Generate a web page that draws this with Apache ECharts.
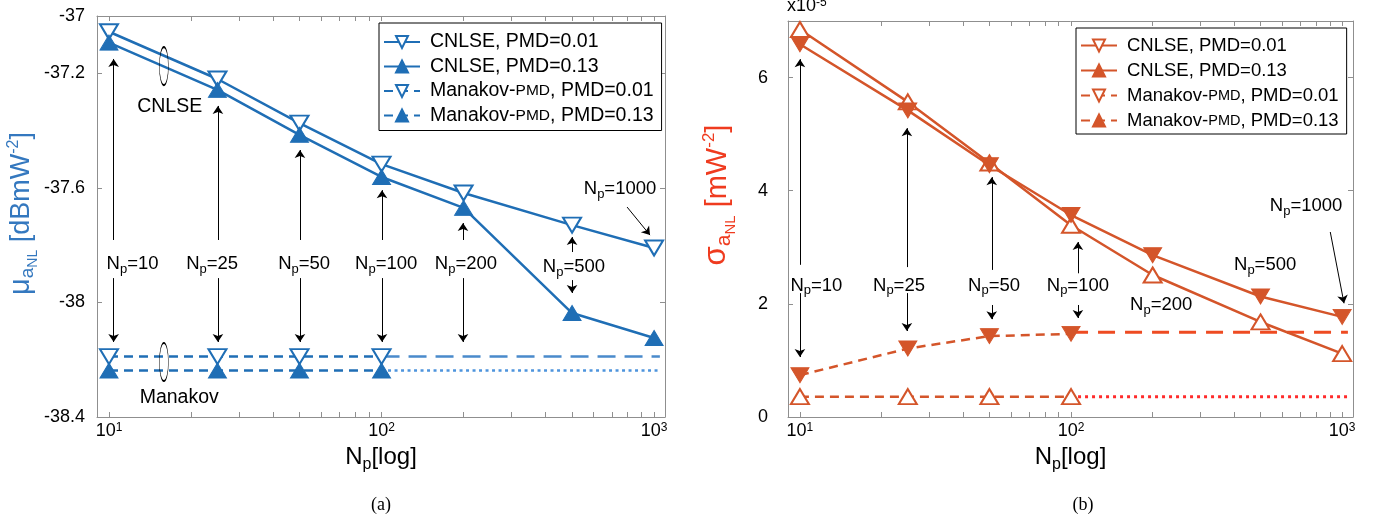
<!DOCTYPE html>
<html>
<head>
  <meta charset="utf-8" />
  <title>Mean and std of aNL vs Np</title>
  <script src="https://cdn.jsdelivr.net/npm/echarts@6/dist/echarts.min.js"></script>
  <style>
    html, body { margin: 0; padding: 0; background: #fff; }
    #chart { width: 1393px; height: 525px; }
  </style>
</head>
<body>
  <div id="chart"></div>
  <script>
    // number of pulses (x, log scale)
    const N_ALL = [10, 25, 50, 100, 200, 500, 1000];
    const N_LOW = [10, 25, 50, 100];
    const N_EXT = [100, 1050];

    const LEGEND_NAMES = ['CNLSE, PMD=0.01', 'CNLSE, PMD=0.13', 'Manakov-PMD, PMD=0.01', 'Manakov-PMD, PMD=0.13'];

    // (a) mean of aNL [dBmW^-2]
    const muCnlse001 = [-37.055, -37.22, -37.374, -37.517, -37.618, -37.73, -37.81];
    const muCnlse013 = [-37.093, -37.258, -37.415, -37.562, -37.67, -38.037, -38.124];
    const muManakov001 = [-38.189, -38.189, -38.189, -38.189];
    const muManakov013 = [-38.238, -38.238, -38.238, -38.238];
    const muManakov001Ext = [-38.189, -38.189];
    const muManakov013Ext = [-38.238, -38.238];

    // (b) std of aNL [x1e-5 mW^-2]
    const sigCnlse001 = [6.85, 5.57, 4.49, 3.39, 2.51, 1.68, 1.12];
    const sigCnlse013 = [6.59, 5.42, 4.45, 3.57, 2.86, 2.13, 1.77];
    const sigManakov001 = [0.36, 0.36, 0.36, 0.36];
    const sigManakov013 = [0.74, 1.21, 1.43, 1.47];
    const sigManakov001Ext = [0.36, 0.36];
    const sigManakov013Ext = [1.5, 1.5];

    // ticks
    const X_LABEL_EXP = [1, 2, 3];
    const X_TICKS = [10, 20, 30, 40, 50, 60, 70, 80, 90, 100, 200, 300, 400, 500, 600, 700, 800, 900, 1000];
    const MU_TICKS = [-38.4, -38, -37.6, -37.2, -37];
    const SIG_TICKS = [0, 2, 4, 6];

    // annotations: arrows [N1, v1, N2, v2], labels [N, v, text]
    const arrowsA = [
      [10.4, -37.782, 10.4, -37.150], [25.1, -37.782, 25.1, -37.314], [50.2, -37.782, 50.2, -37.468],
      [100.4, -37.782, 100.4, -37.608], [199, -37.782, 199, -37.723], [500, -37.824, 500, -37.772],
      [10.4, -37.915, 10.4, -38.138], [25.1, -37.915, 25.1, -38.138], [50.2, -37.915, 50.2, -38.138],
      [100.4, -37.915, 100.4, -38.138], [199, -37.915, 199, -38.138], [500, -37.922, 500, -37.967],
      [796, -37.667, 966, -37.765]
    ];
    const labelsA = [
      [12.2, -37.869, '10'], [23.9, -37.869, '25'], [52, -37.869, '50'], [104, -37.869, '100'],
      [204, -37.869, '200'], [508, -37.88, '500'], [750, -37.608, '1000']
    ];
    const ellipsesA = [[15.9, -37.175], [15.9, -38.208]];
    const textsA = [[16.7, -37.318, 'CNLSE'], [18.1, -38.334, 'Manakov']];

    const arrowsB = [
      [10, 2.69, 10, 6.325], [24.8, 2.65, 24.8, 5.106], [51, 2.6, 51, 4.24], [106, 2.54, 106, 3.092],
      [10, 2.19, 10, 1.06], [24.8, 2.19, 24.8, 1.52], [51, 1.98, 51, 1.73], [106, 1.98, 106, 1.75],
      [904, 3.27, 1016, 2.01]
    ];
    const labelsB = [
      [11.5, 2.31, '10'], [23.2, 2.31, '25'], [52, 2.31, '50'], [106, 2.31, '100'],
      [215, 1.96, '200'], [520, 2.67, '500'], [736, 3.71, '1000']
    ];

    const BLUE = '#1f6eb5', BLUE_LIGHT = '#4a8acb', BLUE_DOT = '#4d94dd';
    const ORANGE = '#d4552a', ORANGE_EXT = '#ee4b22', RED_DOT = '#ff2b2b';
    const AXIS_GRAY = '#8f8f8f';
    const FONT = "'Liberation Sans', Arial, sans-serif";
    const X_MIN = 0.956, X_MAX = 3.04;
    const R_SUFFIX = ' (b)';

    const L = Math.log10;
    const toXY = (ns, vs) => ns.map((n, i) => [L(n), vs[i]]);

    function curve(name, panel, ns, vs, color, o) {
      const hasSym = o.symbol !== false;
      return {
        name: name, type: 'line',
        xAxisIndex: panel * 2, yAxisIndex: panel * 2,
        data: toXY(ns, vs),
        symbol: hasSym ? 'triangle' : 'none',
        showSymbol: hasSym,
        symbolRotate: o.down ? 180 : 0,
        symbolSize: [18, 15],
        symbolKeepAspect: false,
        lineStyle: { color: color, width: o.width || 2.5, type: o.dash || 'solid' },
        itemStyle: o.open
          ? { color: '#fff', borderColor: color, borderWidth: 2 }
          : { color: color, borderColor: color, borderWidth: 1 },
        z: o.z || 2, animation: false, silent: true
      };
    }

    // base text + lowered subscript (rich text)
    function subRich(size, subSize, drop, color) {
      return {
        n: { fontSize: size, lineHeight: size + 2, fontFamily: FONT, color: color, verticalAlign: 'top' },
        p: { fontSize: subSize, lineHeight: subSize, fontFamily: FONT, color: color, verticalAlign: 'top', padding: [drop, 0, 0, 0] }
      };
    }

    function annotations(panel, arrows, labels, ellipses, texts) {
      const lines = arrows.map(a => [
        { coord: [L(a[0]), a[1]] },
        { coord: [L(a[2]), a[3]] }
      ]);
      const points = labels.map(l => ({
        coord: [L(l[0]), l[1]], symbol: 'circle', symbolSize: 1,
        itemStyle: { color: 'rgba(0,0,0,0)' },
        label: { show: true, position: 'inside', formatter: () => '{n|N}{p|p}{n|=' + l[2] + '}', rich: subRich(18.5, 13, 8, '#000') }
      }));
      ellipses.forEach(e => points.push({
        coord: [L(e[0]), e[1]], symbol: 'circle', symbolSize: [9, 38],
        itemStyle: { color: 'rgba(0,0,0,0)', borderColor: '#000', borderWidth: 1 },
        label: { show: false }
      }));
      texts.forEach(t => points.push({
        coord: [L(t[0]), t[1]], symbol: 'circle', symbolSize: 1,
        itemStyle: { color: 'rgba(0,0,0,0)' },
        label: { show: true, position: 'inside', formatter: () => t[2], fontSize: 19.5, fontFamily: FONT, color: '#000' }
      }));
      return {
        type: 'line', name: 'anno' + panel, data: [],
        xAxisIndex: panel * 2, yAxisIndex: panel * 2, z: 5, silent: true, animation: false,
        markLine: {
          silent: true, animation: false,
          symbol: ['none', 'arrow'], symbolSize: 8,
          label: { show: false },
          lineStyle: { color: '#000', width: 1, type: 'solid' },
          emphasis: { disabled: true },
          data: lines
        },
        markPoint: { silent: true, animation: false, emphasis: { disabled: true }, data: points }
      };
    }

    function xAxes(gi) {
      const base = {
        type: 'value', gridIndex: gi, min: X_MIN, max: X_MAX,
        splitLine: { show: false },
        axisLine: { show: true, onZero: false, lineStyle: { color: AXIS_GRAY, width: 1 } },
        axisTick: { show: true, inside: true, length: 5, customValues: X_TICKS.map(L), lineStyle: { color: AXIS_GRAY } }
      };
      return [
        Object.assign({}, base, {
          position: 'bottom',
          axisLabel: {
            customValues: X_LABEL_EXP, margin: 5, color: '#000', fontSize: 18, fontFamily: FONT,
            formatter: v => '{b|10}{s|' + Math.round(v) + '}',
            rich: {
              b: { fontSize: 18, lineHeight: 20, fontFamily: FONT, color: '#000', verticalAlign: 'top' },
              s: { fontSize: 12, lineHeight: 12, fontFamily: FONT, color: '#000', verticalAlign: 'top' }
            }
          },
          name: '{n|N}{p|p}{n|[log]}', nameLocation: 'middle', nameGap: 28,
          nameTextStyle: { rich: subRich(24, 16, 12, '#000') }
        }),
        Object.assign({}, base, { position: 'top', axisLabel: { show: false } })
      ];
    }

    function yAxes(gi, min, max, ticks, margin, name, nameColor, nameSize, nameGap, namePad) {
      const base = {
        type: 'value', gridIndex: gi, min: min, max: max,
        splitLine: { show: false },
        axisLine: { show: true, onZero: false, lineStyle: { color: AXIS_GRAY, width: 1 } },
        axisTick: { show: true, inside: true, length: 5, customValues: ticks, lineStyle: { color: AXIS_GRAY } }
      };
      const s = nameSize;
      return [
        Object.assign({}, base, {
          position: 'left',
          axisLabel: { customValues: ticks, margin: margin, color: '#000', fontSize: 18, fontFamily: FONT, formatter: v => String(+v.toFixed(2)) },
          name: name, nameLocation: 'middle', nameGap: nameGap,
          nameTextStyle: {
            padding: namePad,
            rich: {
              m: { fontSize: s + 2, lineHeight: s + 4, fontFamily: FONT, color: nameColor, verticalAlign: 'top' },
              a: { fontSize: Math.round(s * 0.72), lineHeight: Math.round(s * 0.72), fontFamily: FONT, color: nameColor, verticalAlign: 'top', padding: [Math.round(s * 0.45), 0, 0, 0] },
              nl: { fontSize: Math.round(s * 0.5), lineHeight: Math.round(s * 0.5), fontFamily: FONT, color: nameColor, verticalAlign: 'top', padding: [Math.round(s * 0.75), 0, 0, 0] },
              t: { fontSize: s, lineHeight: s + 4, fontFamily: FONT, color: nameColor, verticalAlign: 'top', padding: [2, 0, 0, 0] },
              sp: { fontSize: Math.round(s * 0.6), lineHeight: Math.round(s * 0.6), fontFamily: FONT, color: nameColor, verticalAlign: 'top' }
            }
          }
        }),
        Object.assign({}, base, { position: 'right', axisLabel: { show: false } })
      ];
    }

    function legendText(name) {
      const n = name.replace(R_SUFFIX, '');
      if (n.indexOf('Manakov-PMD') === 0) {
        return '{n|Manakov-}{s|PMD}{n|' + n.slice('Manakov-PMD'.length) + '}';
      }
      return '{n|' + n + '}';
    }

    function legend(names, left, top, fontSize, gap, pad, rotations) {
      return {
        orient: 'vertical', left: left, top: top,
        data: names.map((n, i) => rotations ? { name: n, symbolRotate: rotations[i] } : { name: n }),
        itemWidth: 36, itemHeight: 15, itemGap: gap, padding: pad,
        borderColor: '#000', borderWidth: 1, backgroundColor: '#fff',
        selectedMode: false, formatter: legendText,
        textStyle: {
          padding: [0, 0, 0, 5],
          rich: {
            n: { fontSize: fontSize, fontFamily: FONT, color: '#000', lineHeight: 20 },
            s: { fontSize: fontSize - 4, fontFamily: FONT, color: '#000', lineHeight: 20 }
          }
        }
      };
    }

    const namesB = LEGEND_NAMES.map(n => n + R_SUFFIX);

    const option = {
      animation: false,
      backgroundColor: '#fff',
      textStyle: { fontFamily: FONT },
      grid: [
        { left: 97, top: 16, width: 568, height: 401, containLabel: false },
        { left: 788, top: 21, width: 565, height: 396, containLabel: false }
      ],
      xAxis: xAxes(0).concat(xAxes(1)),
      yAxis: yAxes(0, -38.4, -37, MU_TICKS, 12,
          '{m|μ}{a|a}{nl|NL}{t| [dBmW}{sp|-2}{t|]}', '#3478bf', 27, 58, [0, 0, 0, 6])
        .concat(yAxes(1, 0, 7, SIG_TICKS, 20,
          '{m|σ}{a|a}{nl|NL}{t| [mW}{sp|-2}{t|]}', '#ef3b1f', 29, 54, [0, 0, 0, 48])),
      legend: [
        legend(LEGEND_NAMES, 379, 23, 19.5, 4.5, [9, 8, 5, 4], null),
        legend(namesB, 1076, 28, 18.5, 6, [8, 8, 4, 4], [180, 0, 180, 0])
      ],
      series: [
        curve(LEGEND_NAMES[0], 0, N_ALL, muCnlse001, BLUE, { open: true, down: true }),
        curve(LEGEND_NAMES[1], 0, N_ALL, muCnlse013, BLUE, {}),
        curve('extA1', 0, N_EXT, muManakov001Ext, BLUE_LIGHT, { symbol: false, dash: [18, 9], z: 1 }),
        curve('extA2', 0, N_EXT, muManakov013Ext, BLUE_DOT, { symbol: false, dash: [3, 3.5], z: 1 }),
        curve(LEGEND_NAMES[2], 0, N_LOW, muManakov001, BLUE, { open: true, down: true, dash: [9, 6] }),
        curve(LEGEND_NAMES[3], 0, N_LOW, muManakov013, BLUE, { dash: [9, 6] }),
        annotations(0, arrowsA, labelsA, ellipsesA, textsA),

        curve(namesB[0], 1, N_ALL, sigCnlse001, ORANGE, { open: true }),
        curve(namesB[1], 1, N_ALL, sigCnlse013, ORANGE, { down: true }),
        curve('extB1', 1, N_EXT, sigManakov001Ext, RED_DOT, { symbol: false, dash: [3, 4], width: 3, z: 1 }),
        curve('extB2', 1, N_EXT, sigManakov013Ext, ORANGE_EXT, { symbol: false, dash: [17, 10], width: 3, z: 1 }),
        curve(namesB[2], 1, N_LOW, sigManakov001, ORANGE, { open: true, dash: [9, 6] }),
        curve(namesB[3], 1, N_LOW, sigManakov013, ORANGE, { down: true, dash: [9, 6] }),
        annotations(1, arrowsB, labelsB, [], [])
      ],
      graphic: [
        { type: 'text', x: 787, y: -3, style: { text: '{t|x10}{s|-5}', rich: {
            t: { fontSize: 18, fontFamily: FONT, fill: '#000' },
            s: { fontSize: 12, fontFamily: FONT, fill: '#000', verticalAlign: 'top' } } } },
        { type: 'text', x: 381, y: 505, style: { text: '(a)', font: "18px 'Liberation Serif', 'Times New Roman', serif", fill: '#000', align: 'center', verticalAlign: 'middle' } },
        { type: 'text', x: 1083, y: 505, style: { text: '(b)', font: "18px 'Liberation Serif', 'Times New Roman', serif", fill: '#000', align: 'center', verticalAlign: 'middle' } }
      ]
    };

    const chart = echarts.init(document.getElementById('chart'), null, { renderer: 'canvas' });
    chart.setOption(option);
  </script>
</body>
</html>
